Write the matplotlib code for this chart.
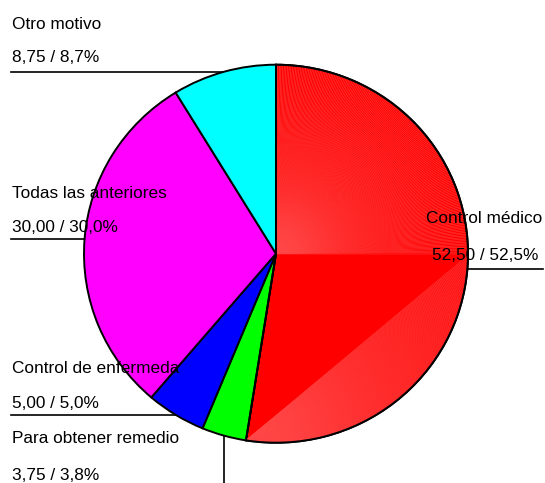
import numpy as np
import matplotlib
matplotlib.use("Agg")
import matplotlib.pyplot as plt
from matplotlib.collections import LineCollection
from matplotlib.patches import Wedge

categories = ["Control médico", "Para obtener remedio", "Control de enfermeda",
              "Todas las anteriores", "Otro motivo"]
values = [52.50, 3.75, 5.00, 30.00, 8.75]
value_labels = ["52,50 / 52,5%", "3,75 / 3,8%", "5,00 / 5,0%",
                "30,00 / 30,0%", "8,75 / 8,7%"]
colors = ["#ff0000", "#00ff00", "#0000ff", "#ff00ff", "#00ffff"]

W, H = 545, 483
CX, CY = 276.0, 253.7      # pie centre in pixels (y down)
RX, RY = 192.0, 189.0      # pie radii in pixels

plt.rcParams['font.family'] = ['Liberation Sans', 'DejaVu Sans']
fig = plt.figure(figsize=(W / 100, H / 100), dpi=100)
ax = fig.add_axes([0, 0, 1, 1])
wedges, _ = ax.pie(values, colors=colors, startangle=90, counterclock=False,
                   radius=1.0, center=(0, 0),
                   wedgeprops=dict(edgecolor="black", linewidth=1.4))
ax.set_aspect('auto')
ax.set_xlim(-CX / RX, (W - CX) / RX)
ax.set_ylim(-(H - CY) / RY, CY / RY)
ax.axis('off')

# texture of the big red slice (fan of faint lines as in the reference)
red = wedges[0]
t1, t2 = red.theta1, red.theta2
segs = []
for a in np.arange(max(t1, 0.0), min(t2, 90.0), 0.5):
    r = np.deg2rad(a)
    segs.append([(0, 0), (np.cos(r), np.sin(r))])
p0 = (np.cos(np.deg2rad(t1)), np.sin(np.deg2rad(t1)))
for a in np.arange(t1 + 0.5, min(t2, 0.0), 0.5):
    r = np.deg2rad(a)
    segs.append([p0, (np.cos(r), np.sin(r))])
ax.add_collection(LineCollection(segs, colors="#ff4646", linewidths=0.35,
                                 zorder=1.5))
for w in wedges:
    w.set_zorder(1)
ax.add_patch(Wedge((0, 0), 1.0, t1, t2, facecolor="none", edgecolor="black",
                   linewidth=1.4, zorder=2))


def to_px(th):
    r = np.deg2rad(th)
    return CX + RX * np.cos(r), CY - RY * np.sin(r)


def px2d(x, y):
    return (x - CX) / RX, (CY - y) / RY


mids = [(w.theta1 + w.theta2) / 2 for w in wedges]
lw = 1.2
fs = 12.4

# Otro motivo (cyan) - line from left margin to edge
ex, ey = to_px(mids[4])
ax.plot(*zip(px2d(11, ey), px2d(ex, ey)), color="black", lw=lw, zorder=0.5)
fig.text(12 / W, 1 - 29 / H, categories[4], fontsize=fs, va='baseline')
fig.text(12 / W, 1 - 62 / H, value_labels[4], fontsize=fs, va='baseline')

# Todas las anteriores (magenta)
ex, ey = to_px(mids[3])
ax.plot(*zip(px2d(11, ey), px2d(ex, ey)), color="black", lw=lw, zorder=0.5)
fig.text(12 / W, 1 - 198 / H, categories[3], fontsize=fs, va='baseline')
fig.text(12 / W, 1 - 232 / H, value_labels[3], fontsize=fs, va='baseline')

# Control de enfermeda (blue)
ex, ey = to_px(mids[2])
ax.plot(*zip(px2d(11, ey), px2d(ex, ey)), color="black", lw=lw, zorder=0.5)
fig.text(12 / W, 1 - 373 / H, categories[2], fontsize=fs, va='baseline')
fig.text(12 / W, 1 - 408 / H, value_labels[2], fontsize=fs, va='baseline')

# Para obtener remedio (green) - vertical line down
ex, ey = to_px(mids[1])
ax.plot(*zip(px2d(ex, ey), px2d(ex, H + 2)), color="black", lw=lw, zorder=0.5)
fig.text(12 / W, 1 - 443 / H, categories[1], fontsize=fs, va='baseline')
fig.text(12 / W, 1 - 480 / H, value_labels[1], fontsize=fs, va='baseline')

# Control médico (red)
ex, ey = to_px(mids[0])
ax.plot(*zip(px2d(ex, ey), px2d(543, ey)), color="black", lw=lw, zorder=0.5)
fig.text(425.5 / W, 1 - 223 / H, categories[0], fontsize=fs, va='baseline')
fig.text(431.5 / W, 1 - 260 / H, value_labels[0], fontsize=fs, va='baseline')

fig.savefig("out.png", dpi=100, facecolor="white")
